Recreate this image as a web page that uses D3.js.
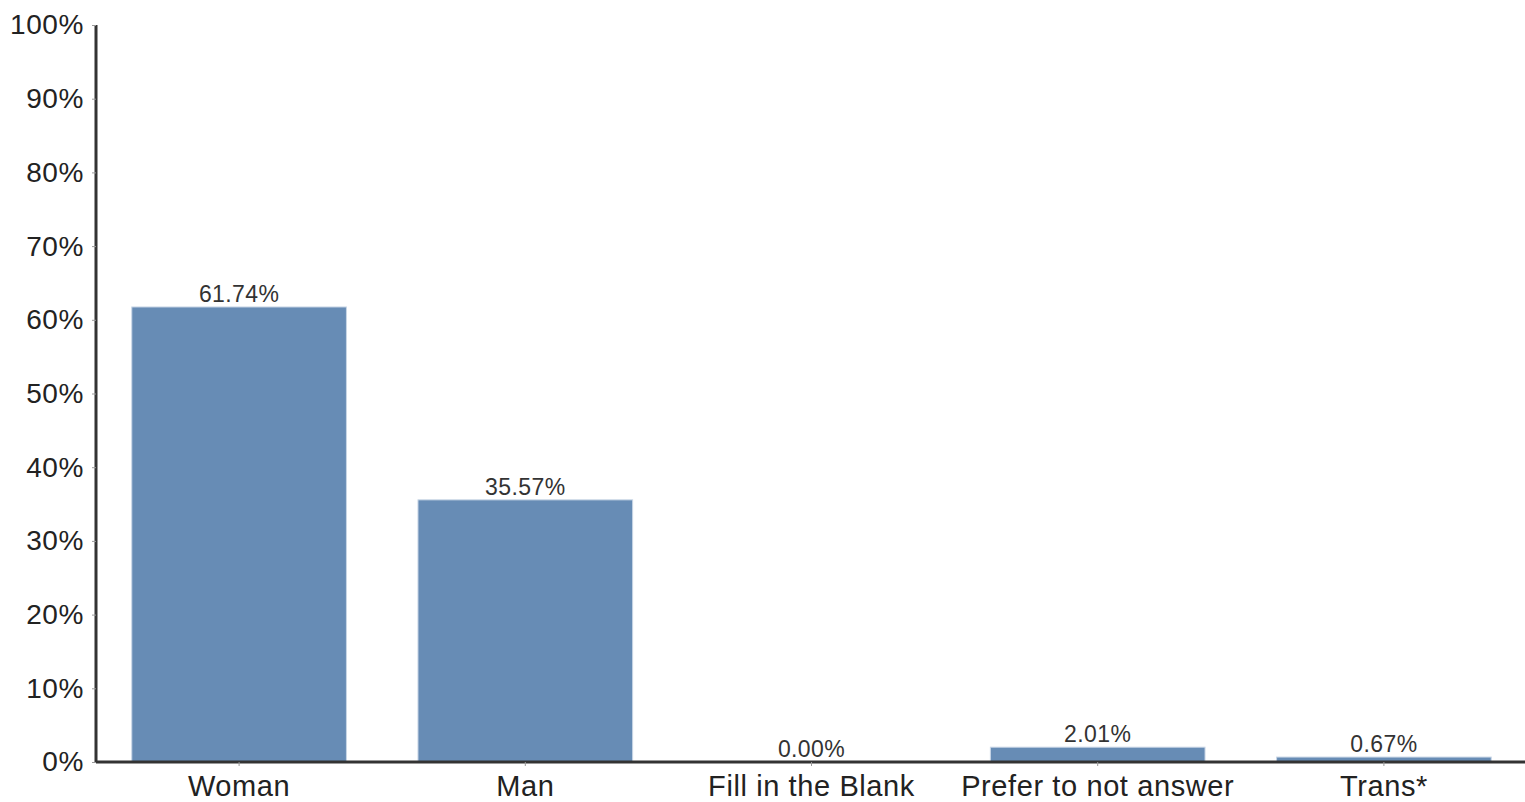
<!DOCTYPE html>
<html><head><meta charset="utf-8">
<script src="https://cdn.jsdelivr.net/npm/d3@7"></script>
<style>body{margin:0;background:#fff}svg{display:block}</style>
</head><body><svg id="c" width="1525" height="802"></svg>
<script>
const categories = ["Woman","Man","Fill in the Blank","Prefer to not answer","Trans*"];
const values = [61.74,35.57,0.00,2.01,0.67];
const yTicks = [0,10,20,30,40,50,60,70,80,90,100];

const svg = d3.select("#c");
const m = {l:96, r:-2, t:25, b:40};
const W = 1525, H = 802;
const x = d3.scaleBand().domain(categories).range([m.l, W - m.r]).paddingInner(0.25).paddingOuter(0.125);
const y = d3.scaleLinear().domain([0,100]).range([762, 25]);

svg.append("g").selectAll("rect").data(values).join("rect")
  .attr("x",(d,i)=>x(categories[i])).attr("width",x.bandwidth())
  .attr("y",d=>y(d)).attr("height",d=>y(0)-y(d))
  .attr("fill","#678cb5").attr("stroke","#c9d6e6").attr("stroke-width",1);

svg.append("g").selectAll("text").data(values).join("text")
  .attr("x",(d,i)=>x(categories[i])+x.bandwidth()/2).attr("y",d=>y(d)-5)
  .attr("text-anchor","middle").attr("font-family","Liberation Sans, Arial, sans-serif")
  .attr("font-size",23).attr("letter-spacing","0.4px").attr("fill","#333").text(d=>d.toFixed(2)+"%");

const ya = svg.append("g").attr("transform",`translate(${m.l},0)`)
  .call(d3.axisLeft(y).tickValues(yTicks).tickFormat(d=>d+"%").tickSize(4).tickPadding(8));
const xa = svg.append("g").attr("transform",`translate(0,${y(0)})`)
  .call(d3.axisBottom(x).tickSize(4).tickPadding(9).tickSizeOuter(0));
[ya,xa].forEach(a=>{
  a.select(".domain").attr("stroke","#333").attr("stroke-width",3);
  a.selectAll(".tick line").attr("stroke","#999");
  a.selectAll("text").attr("font-family","Liberation Sans, Arial, sans-serif").attr("font-size",28).attr("fill","#222");
});
ya.selectAll(".tick text").attr("letter-spacing","0.6px");
xa.selectAll(".tick text").attr("font-size",29).attr("letter-spacing","0.6px");
ya.select(".domain").attr("d",`M0,${y(100)}V${y(0)}`);
xa.select(".domain").attr("d",`M${m.l},0H${W}`);
</script></body></html>
